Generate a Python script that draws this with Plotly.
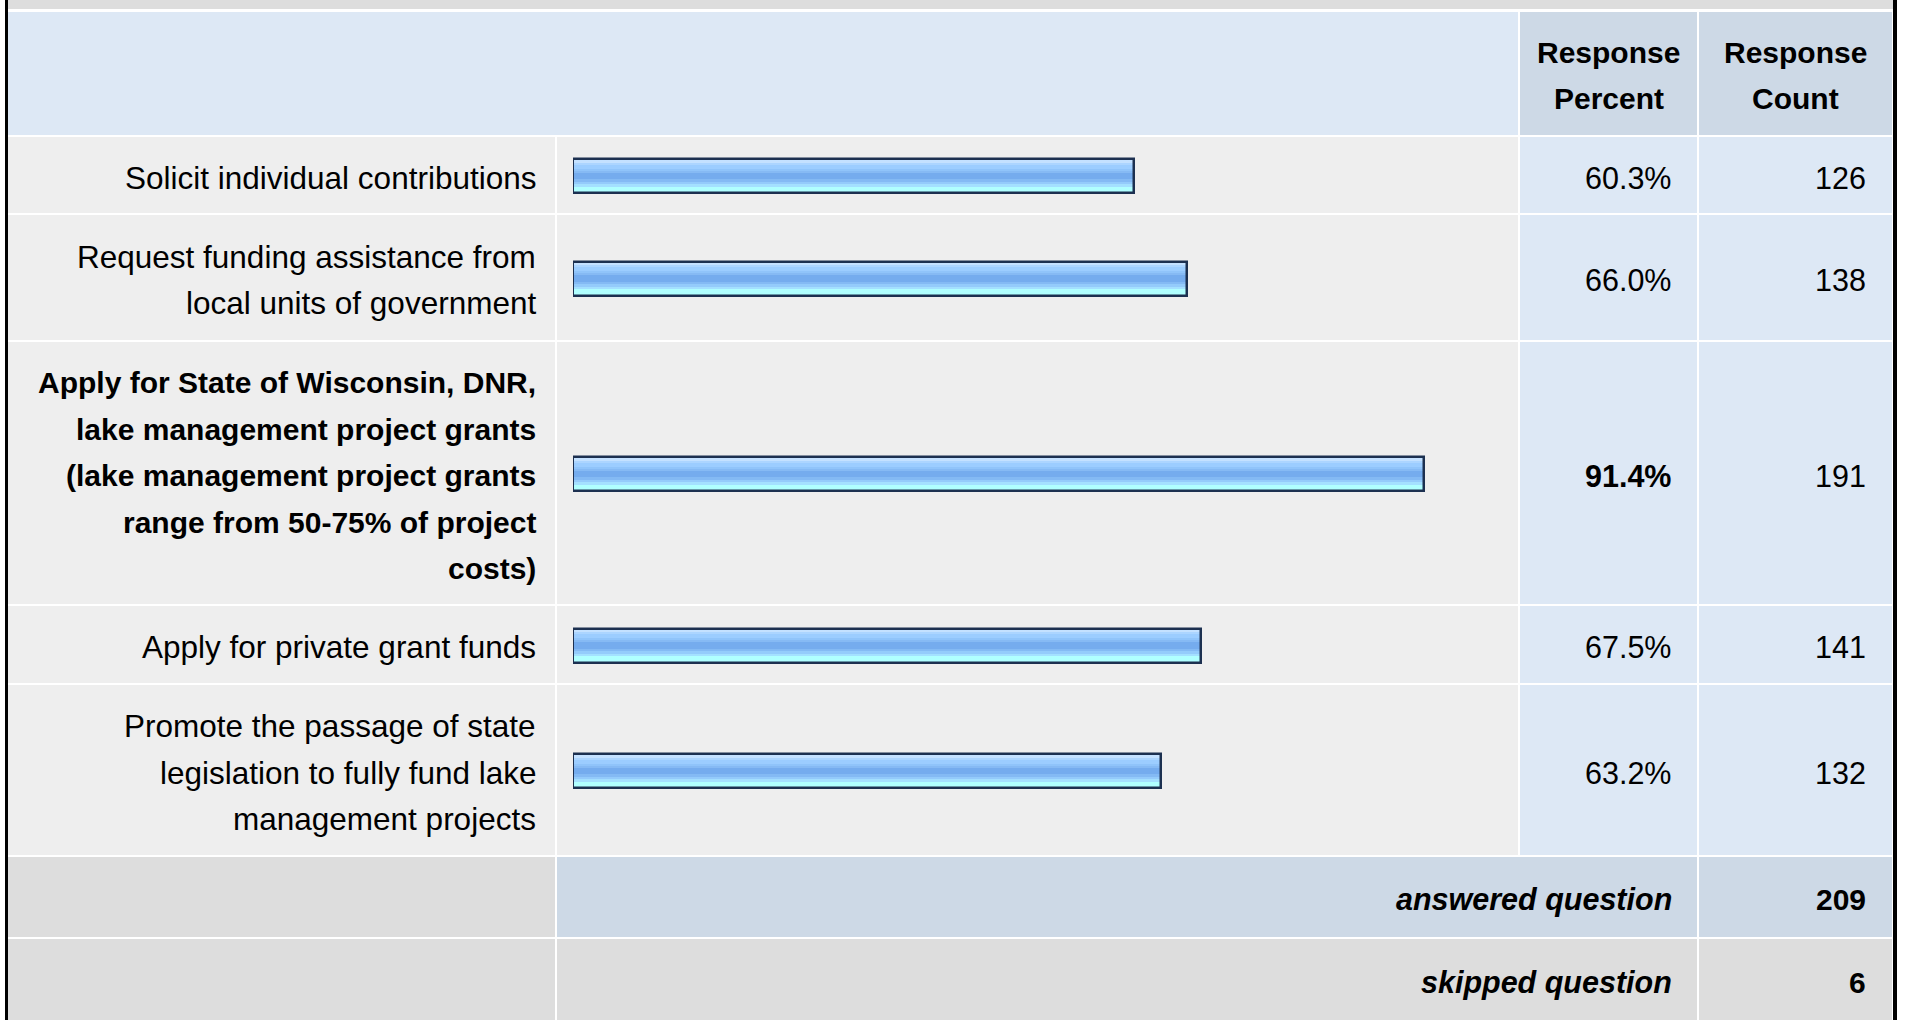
import plotly.graph_objects as go

# ---------------- data ----------------
answer_choices = [
    "Solicit individual contributions",
    "Request funding assistance from\nlocal units of government",
    "Apply for State of Wisconsin, DNR,\nlake management project grants\n(lake management project grants\nrange from 50-75% of project\ncosts)",
    "Apply for private grant funds",
    "Promote the passage of state\nlegislation to fully fund lake\nmanagement projects",
]
response_percent = [60.3, 66.0, 91.4, 67.5, 63.2]
response_count = [126, 138, 191, 141, 132]
header_labels = ["Response\nPercent", "Response\nCount"]
answered_question = 209
skipped_question = 6

# ---------------- layout constants (pixels) ----------------
W, H = 1907, 1020
FONT = "Liberation Sans, Arial, Helvetica, sans-serif"
FS = 30
FS_LABEL = 31.5
FS_NUM = 30.5
LINE_H = 46.5
TEXT_DY = 2.5

COL_LABEL = (8, 555)
COL_BAR = (557, 1518)
COL_PCT = (1520, 1697)
COL_CNT = (1699, 1892)
HEADER = (12, 135)
ROWS = [(137, 213), (215, 340), (342, 604), (606, 683), (685, 855)]
ANSWERED = (857, 937)
SKIPPED = (939, 1020)

BAR_X0 = 573          # pixel where 0 % sits
PX_PER_100 = 931      # pixel length of 100 %
BAR_H = 34

C_ROW = "#eeeeee"
C_BLUE = "#dde8f5"
C_BLUE2 = "#cdd9e6"
C_GRAY = "#dddddd"
C_BORDER = "#1c3050"

STRIPES = [  # (relative height, colour) top -> bottom inside the bar
    (7, "#c4e1ff"), (7, "#acd5ff"), (11, "#9ccdff"), (7, "#90c4fa"),
    (6, "#86baf4"), (20, "#75acee"), (7, "#84baf4"), (8, "#94cbfb"),
    (7, "#a4e0ff"), (15, "#b0ffff"),
]


def px(x):
    return x / W


def py(y):
    return 1 - y / H


shapes = []


def rect(x0, x1, y0, y1, color):
    shapes.append(dict(type="rect", xref="paper", yref="paper",
                       x0=px(x0), x1=px(x1), y0=py(y1), y1=py(y0),
                       fillcolor=color, line=dict(width=0), layer="below"))


annotations = []


def text(x, y, s, anchor, bold=False, italic=False, size=FS):
    if bold:
        s = "<b>" + s + "</b>"
    if italic:
        s = "<i>" + s + "</i>"
    annotations.append(dict(xref="paper", yref="paper", x=px(x), y=py(y),
                            text=s, showarrow=False, xanchor=anchor,
                            yanchor="middle",
                            font=dict(family=FONT, size=size, color="#000000")))


def multiline(x, yc, lines, anchor, bold=False, size=FS):
    n = len(lines)
    for i, ln in enumerate(lines):
        y = yc + TEXT_DY + (i - (n - 1) / 2) * LINE_H
        text(x, y, ln, anchor, bold=bold, size=size)


# outer frame
rect(5, 8, 0, H, "#000000")
rect(1893, 1897, 0, H, "#000000")
rect(8, 1893, 0, 9, C_GRAY)

# header
rect(COL_LABEL[0], COL_BAR[1], HEADER[0], HEADER[1], C_BLUE)
rect(COL_PCT[0], COL_PCT[1], HEADER[0], HEADER[1], C_BLUE2)
rect(COL_CNT[0], COL_CNT[1], HEADER[0], HEADER[1], C_BLUE2)
hc = (HEADER[0] + HEADER[1]) / 2
multiline((COL_PCT[0] + COL_PCT[1]) / 2, hc - 0.5, header_labels[0].split("\n"), "center", bold=True)
multiline((COL_CNT[0] + COL_CNT[1]) / 2, hc - 0.5, header_labels[1].split("\n"), "center", bold=True)

# body rows
top_pct = max(response_percent)
centers = []
for (y0, y1), label, pct, cnt in zip(ROWS, answer_choices, response_percent, response_count):
    rect(COL_LABEL[0], COL_LABEL[1], y0, y1, C_ROW)
    rect(COL_BAR[0], COL_BAR[1], y0, y1, C_ROW)
    rect(COL_PCT[0], COL_PCT[1], y0, y1, C_BLUE)
    rect(COL_CNT[0], COL_CNT[1], y0, y1, C_BLUE)
    yc = (y0 + y1) / 2
    centers.append(yc + 1)
    is_top = pct == top_pct
    multiline(538, yc, label.split("\n"), "right", bold=is_top,
              size=FS if is_top else FS_LABEL)
    text(1673, yc + TEXT_DY, f"{pct:.1f}%", "right", bold=is_top, size=FS_NUM)
    text(1868, yc + TEXT_DY, f"{cnt}", "right", size=FS_NUM)

# summary rows
rect(COL_LABEL[0], COL_LABEL[1], ANSWERED[0], ANSWERED[1], C_GRAY)
rect(COL_BAR[0], COL_PCT[1], ANSWERED[0], ANSWERED[1], C_BLUE2)
rect(COL_CNT[0], COL_CNT[1], ANSWERED[0], ANSWERED[1], C_BLUE2)
yc = (ANSWERED[0] + ANSWERED[1]) / 2
text(1674, yc + TEXT_DY, "answered question", "right", bold=True, italic=True, size=30.5)
text(1868, yc + TEXT_DY, f"{answered_question}", "right", bold=True)

rect(COL_LABEL[0], COL_LABEL[1], SKIPPED[0], SKIPPED[1], C_GRAY)
rect(COL_BAR[0], COL_PCT[1], SKIPPED[0], SKIPPED[1], C_GRAY)
rect(COL_CNT[0], COL_CNT[1], SKIPPED[0], SKIPPED[1], C_GRAY)
yc = (SKIPPED[0] + SKIPPED[1]) / 2
text(1674, yc + TEXT_DY, "skipped question", "right", bold=True, italic=True, size=30.5)
text(1868, yc + TEXT_DY, f"{skipped_question}", "right", bold=True)

# ---------------- bars ----------------
fig = go.Figure()
inner_top = -BAR_H / 2 + 1.25
inner_h = BAR_H - 2.5
total = sum(s[0] for s in STRIPES)
acc = 0
for h_rel, col in STRIPES:
    h = inner_h * h_rel / total
    fig.add_trace(go.Bar(
        x=response_percent, y=centers, orientation="h",
        width=h + 0.4, offset=inner_top + inner_h * acc / total,
        marker=dict(color=col, line=dict(width=0)),
        hoverinfo="skip", showlegend=False))
    acc += h_rel
fig.add_trace(go.Bar(
    x=response_percent, y=centers, orientation="h",
    width=BAR_H, offset=-BAR_H / 2, cliponaxis=False,
    marker=dict(color="rgba(0,0,0,0)", line=dict(width=2.5, color=C_BORDER)),
    hovertemplate="%{x:.1f}%<extra></extra>", showlegend=False))

fig.update_layout(
    width=W, height=H, autosize=False,
    margin=dict(l=0, r=0, t=0, b=0, pad=0),
    paper_bgcolor="#ffffff", plot_bgcolor="rgba(0,0,0,0)",
    barmode="overlay", bargap=0,
    xaxis=dict(domain=[px(BAR_X0), px(BAR_X0 + PX_PER_100)], range=[0, 100],
               visible=False, fixedrange=True),
    yaxis=dict(domain=[0, 1], range=[H, 0], visible=False, fixedrange=True),
    shapes=shapes, annotations=annotations,
    font=dict(family=FONT),
)

fig.write_html("out.html", config={"displayModeBar": False},
               post_script="document.body.style.margin='0';document.body.style.overflow='hidden';")
